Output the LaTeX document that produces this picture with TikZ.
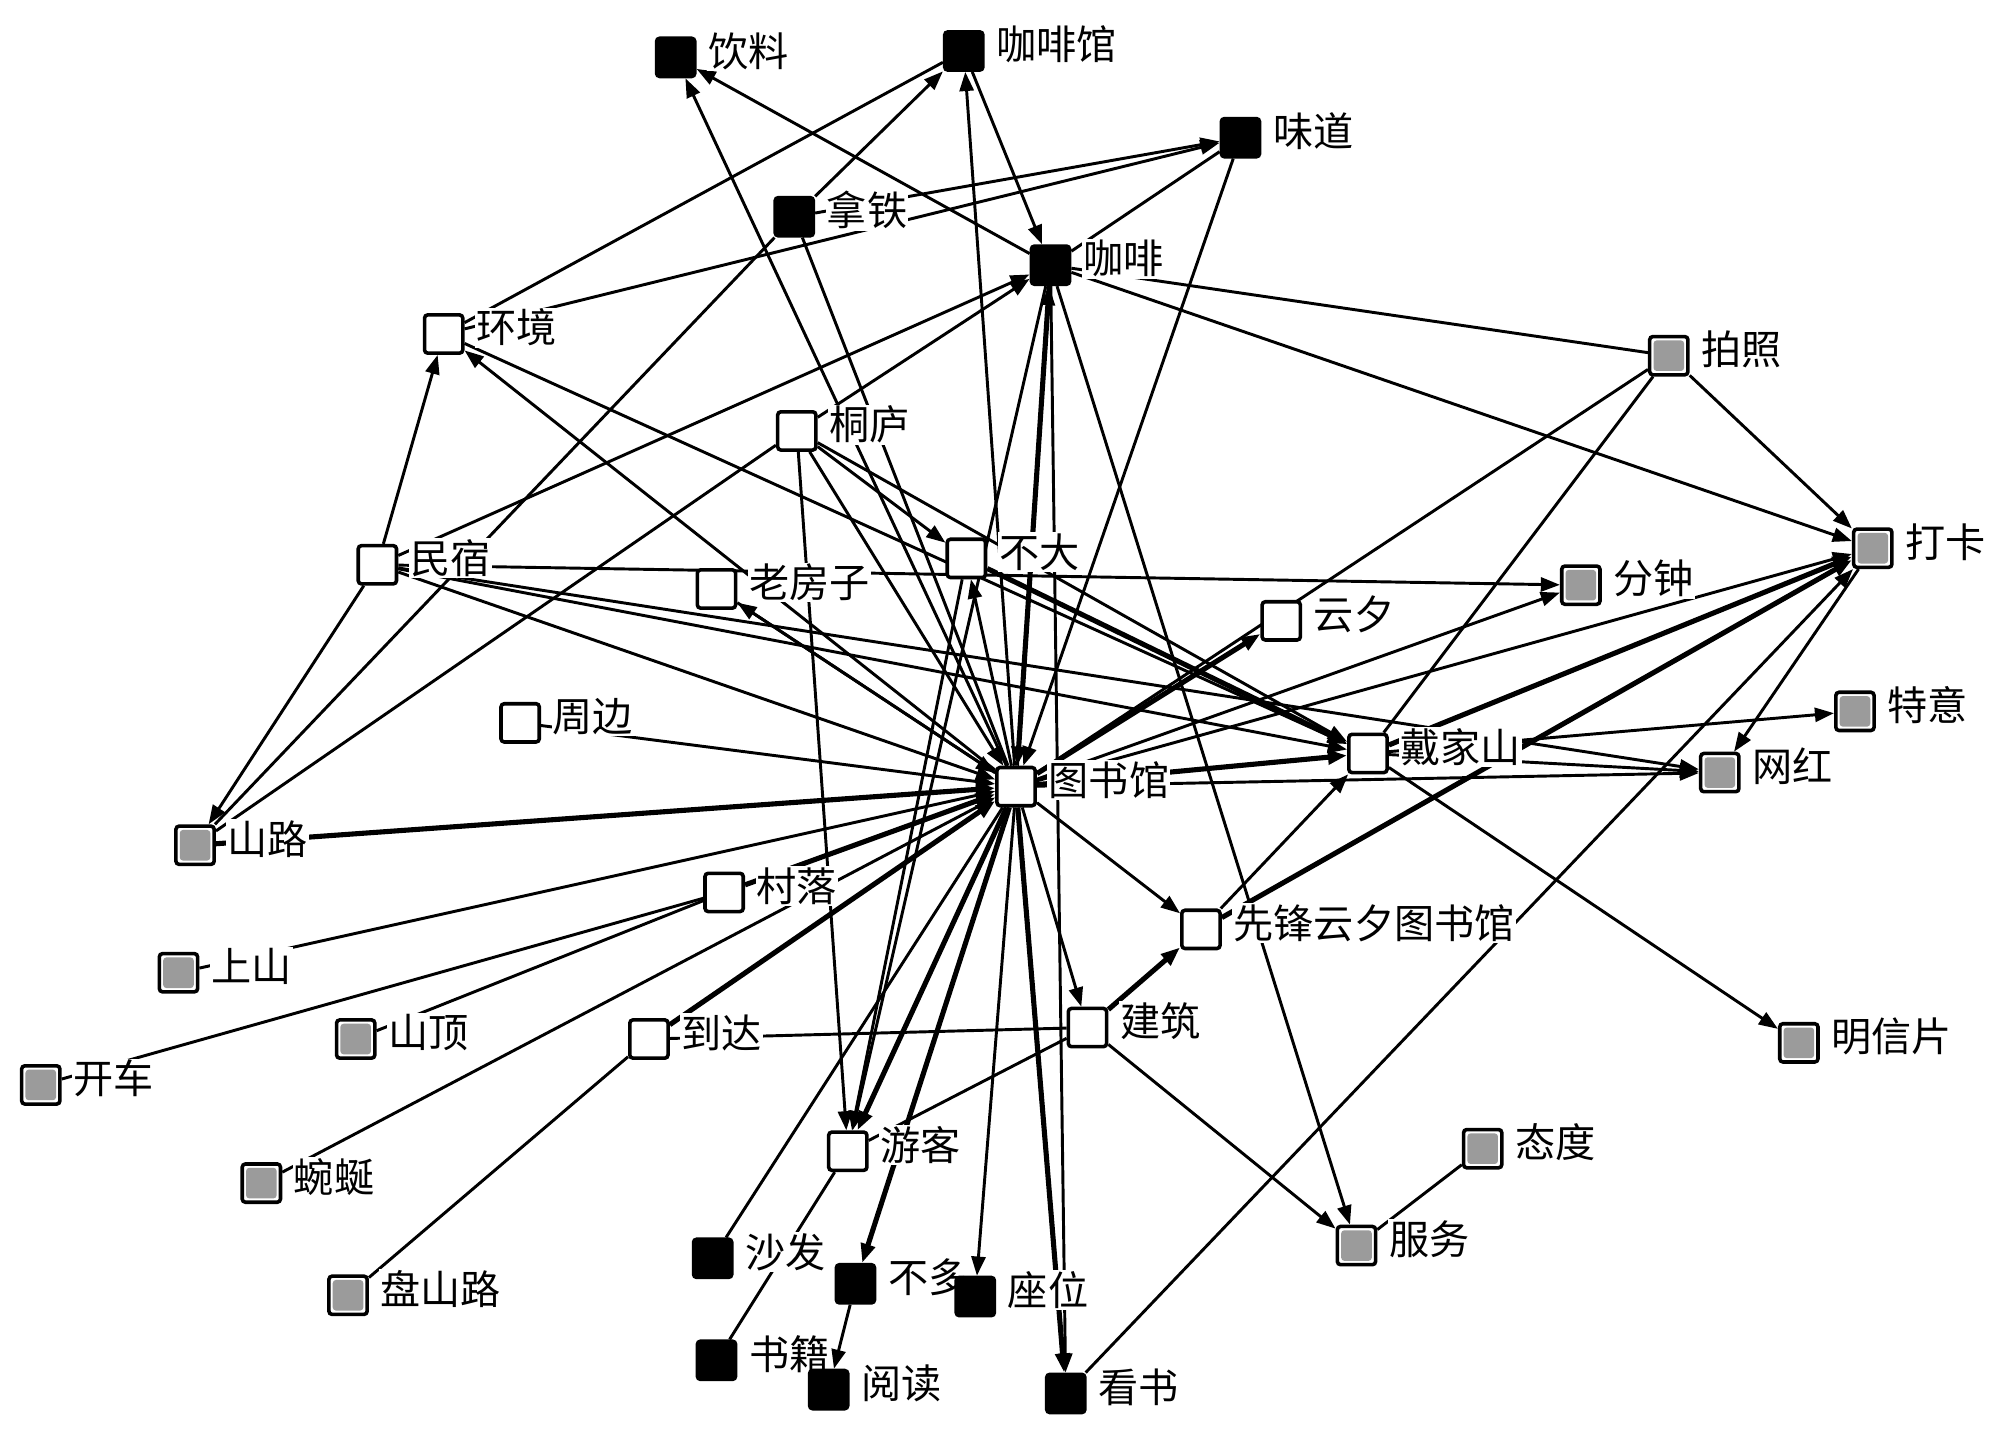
\documentclass[tikz,border=0pt]{standalone}
\usepackage{fontspec}
\newfontfamily\cjk{Noto Sans CJK SC}
\usetikzlibrary{arrows.meta}
\pgfdeclarelayer{edges}
\pgfdeclarelayer{labels}
\pgfsetlayers{edges,labels,main}
\definecolor{ngray}{RGB}{155,155,155}
\newcommand\lbl[2]{\node[lab] (#1L) at ([xshift=8pt,yshift=5pt]#1.east) {#2};}
\tikzset{
  box/.style={rectangle, minimum size=30pt, inner sep=0pt, line width=2.8pt, rounded corners=2.5pt, draw=black},
  wbox/.style={box, fill=white},
  kbox/.style={box, fill=black},
  gbox/.style={box, fill=white, path picture={\fill[ngray] ([shift={(3pt,3pt)}]path picture bounding box.south west) rectangle ([shift={(-3pt,-3pt)}]path picture bounding box.north east);}},
  lab/.style={anchor=west, fill=white, inner sep=1pt, font=\cjk\fontsize{31.5}{32}\selectfont},
  edge/.style={line width=2.3pt, draw=black},
  arr/.style={edge, -{Triangle[length=15pt,width=11pt]}},
  heavy/.style={line width=4pt}
}
\begin{document}
\begin{tikzpicture}[x=1pt,y=-1pt]
\useasboundingbox (0,0) rectangle (1568,1127);
% nodes
\node[kbox] (yl) at (530,45) {};
\node[kbox] (kfg) at (756,40) {};
\node[kbox] (wd) at (973,108) {};
\node[kbox] (nt) at (623,170) {};
\node[kbox] (kf) at (824,208) {};
\node[wbox] (hj) at (348,262) {};
\node[gbox] (pz) at (1309,279) {};
\node[wbox] (tl) at (625,338) {};
\node[wbox] (ms) at (296,443) {};
\node[wbox] (lfz) at (562,462) {};
\node[wbox] (bd) at (758,438) {};
\node[gbox] (fz) at (1240,459) {};
\node[gbox] (dk) at (1469,430) {};
\node[wbox] (yx) at (1005,487) {};
\node[wbox] (zb) at (408,567) {};
\node[wbox] (djs) at (1073,591) {};
\node[gbox] (ty) at (1455,558) {};
\node[gbox] (wh) at (1349,606) {};
\node[wbox] (tsg) at (797,617) {};
\node[gbox] (sl) at (153,663) {};
\node[wbox] (cl) at (568,700) {};
\node[wbox] (xf) at (942,729) {};
\node[gbox] (ss) at (140,763) {};
\node[gbox] (sd) at (279,815) {};
\node[gbox] (kc) at (32,851) {};
\node[wbox] (dd) at (509,815) {};
\node[wbox] (jz) at (853,806) {};
\node[gbox] (mxp) at (1411,818) {};
\node[wbox] (yk) at (665,903) {};
\node[gbox] (td) at (1163,901) {};
\node[gbox] (wy) at (205,928) {};
\node[gbox] (fw) at (1064,977) {};
\node[kbox] (sf) at (559,987) {};
\node[kbox] (bdo) at (671,1007) {};
\node[kbox] (zw) at (765,1017) {};
\node[gbox] (psl) at (273,1016) {};
\node[kbox] (sj) at (562,1067) {};
\node[kbox] (yd) at (650,1090) {};
\node[kbox] (ks) at (836,1093) {};
% labels
\begin{pgfonlayer}{labels}
\lbl{yl}{饮料}
\lbl{kfg}{咖啡馆}
\lbl{wd}{味道}
\lbl{nt}{拿铁}
\lbl{kf}{咖啡}
\lbl{hj}{环境}
\lbl{pz}{拍照}
\lbl{tl}{桐庐}
\lbl{ms}{民宿}
\lbl{lfz}{老房子}
\lbl{bd}{不大}
\lbl{fz}{分钟}
\lbl{dk}{打卡}
\lbl{yx}{云夕}
\lbl{zb}{周边}
\lbl{djs}{戴家山}
\lbl{ty}{特意}
\lbl{wh}{网红}
\lbl{tsg}{图书馆}
\lbl{sl}{山路}
\lbl{cl}{村落}
\lbl{xf}{先锋云夕图书馆}
\lbl{ss}{上山}
\lbl{sd}{山顶}
\lbl{kc}{开车}
\lbl{dd}{到达}
\lbl{jz}{建筑}
\lbl{mxp}{明信片}
\lbl{yk}{游客}
\lbl{td}{态度}
\lbl{wy}{蜿蜒}
\lbl{fw}{服务}
\lbl{sf}{沙发}
\lbl{bdo}{不多}
\lbl{zw}{座位}
\lbl{psl}{盘山路}
\lbl{sj}{书籍}
\lbl{yd}{阅读}
\lbl{ks}{看书}
\end{pgfonlayer}
% edges
\begin{pgfonlayer}{edges}
\fill[white] (0,0) rectangle (1568,1127);
\draw[arr] (tsg) -- (yl);
\draw[arr] (kf) -- (yl);
\draw[edge] (hj) -- (kfg);
\draw[arr] (nt) -- (kfg);
\draw[arr] (kfg) -- (kf);
\draw[arr] (tsg) -- (kfg);
\draw[arr] (nt) -- (wd);
\draw[arr] (hj) -- (wd);
\draw[edge] (kf) -- (wd);
\draw[arr] (wd) -- (tsg);
\draw[edge] (kf) -- (pz);
\draw[arr] (kf) -- (dk);
\draw[edge] (nt) -- (tsg);
\draw[arr] (tl) -- (kf);
\draw[arr] (ms) -- (kf);
\draw[edge] (sl) -- (nt);
\draw[edge] (sl) -- (tl);
\draw[arr] (ms) -- (sl);
\draw[arr] (ms) -- (hj);
\draw[arr] (tsg) -- (hj);
\draw[arr] (hj) -- (djs);
\draw[arr] (ms) -- (fz);
\draw[arr] (ms) -- (tsg);
\draw[arr] (ms) -- (djs);
\draw[arr] (ms) -- (wh);
\draw[arr] (lfz) -- (tsg);
\draw[arr] (tsg) -- (lfz);
\draw[arr] (tl) -- (yk);
\draw[arr] (tl) -- (bd);
\draw[arr] (tl) -- (djs);
\draw[arr] (tl) -- (tsg);
\draw[arr] (tsg) -- (bd);
\draw[arr,heavy] (bd) -- (djs);
\draw[arr,heavy] (kf) -- (tsg);
\draw[arr] (tsg) -- (kf);
\draw[arr] (kf) -- (yk);
\draw[edge] (pz) -- (tsg);
\draw[edge] (pz) -- (djs);
\draw[arr] (pz) -- (dk);
\draw[arr] (tsg) -- (fz);
\draw[arr] (tsg) -- (dk);
\draw[arr,heavy] (djs) -- (dk);
\draw[arr,heavy] (xf) -- (dk);
\draw[arr] (ks) -- (dk);
\draw[arr] (dk) -- (wh);
\draw[arr] (djs) -- (ty);
\draw[arr] (djs) -- (wh);
\draw[arr] (tsg) -- (wh);
\draw[arr] (djs) -- (mxp);
\draw[arr,heavy] (tsg) -- (djs);
\draw[arr] (xf) -- (djs);
\draw[arr] (tsg) -- (xf);
\draw[arr,heavy] (jz) -- (xf);
\draw[arr] (jz) -- (fw);
\draw[arr] (kf) -- (fw);
\draw[edge] (td) -- (fw);
\draw[arr] (tsg) -- (jz);
\draw[edge] (dd) -- (jz);
\draw[edge] (yk) -- (jz);
\draw[arr,heavy] (tsg) -- (yx);
\draw[arr,heavy] (sl) -- (tsg);
\draw[arr] (zb) -- (tsg);
\draw[arr] (ss) -- (tsg);
\draw[edge] (kc) -- (cl);
\draw[edge] (sd) -- (cl);
\draw[arr,heavy] (cl) -- (tsg);
\draw[arr] (wy) -- (tsg);
\draw[edge] (psl) -- (dd);
\draw[arr,heavy] (dd) -- (tsg);
\draw[edge] (sf) -- (tsg);
\draw[edge] (sj) -- (yk);
\draw[arr,heavy] (tsg) -- (yk);
\draw[arr] (bd) -- (yk);
\draw[arr,heavy] (tsg) -- (bdo);
\draw[arr] (bdo) -- (yd);
\draw[arr] (tsg) -- (zw);
\draw[arr,heavy] (tsg) -- (ks);
\draw[arr] (kf) -- (ks);
\end{pgfonlayer}
\end{tikzpicture}
\end{document}
